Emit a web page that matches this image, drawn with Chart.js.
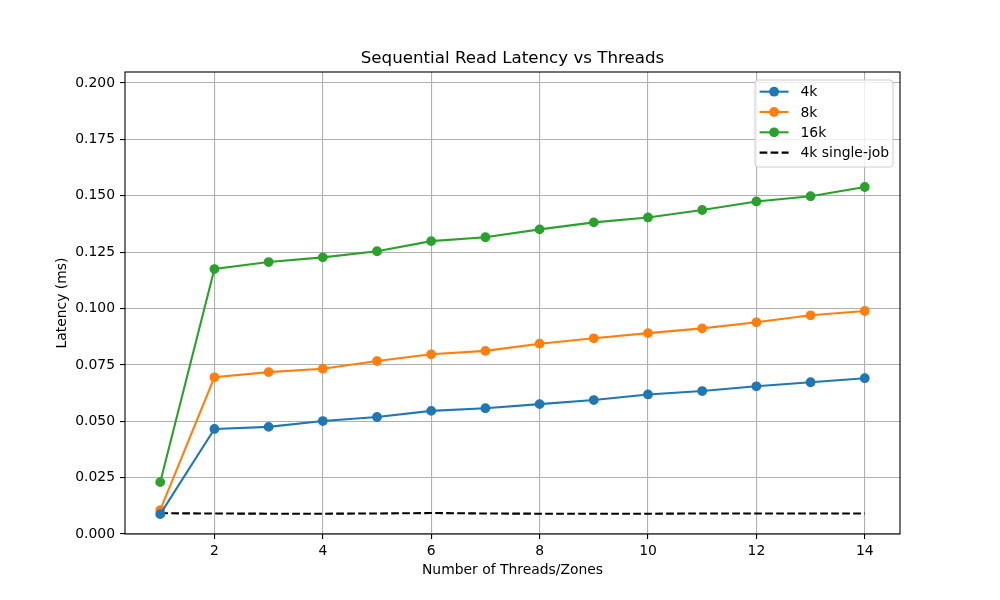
<!DOCTYPE html>
<html>
<head>
<meta charset="utf-8">
<script src="https://cdn.jsdelivr.net/npm/chart.js@4/dist/chart.umd.min.js"></script>
<style>
  html, body { margin: 0; padding: 0; background: #fff; }
  #chart { display: block; }
</style>
</head>
<body>
<canvas id="chart" width="1000" height="600"></canvas>
<script>
// ===== DATA =====
const threads = [1, 2, 3, 4, 5, 6, 7, 8, 9, 10, 11, 12, 13, 14];
const lat4k = [0.0088, 0.0466, 0.0475, 0.0501, 0.0519, 0.0546, 0.0558, 0.0576, 0.0594, 0.0619, 0.0634, 0.0655, 0.0673, 0.0691];
const lat8k = [0.0106, 0.0695, 0.0718, 0.0733, 0.0767, 0.0797, 0.0812, 0.0844, 0.0868, 0.0891, 0.0912, 0.0939, 0.0970, 0.0989];
const lat16k = [0.0230, 0.1175, 0.1206, 0.1227, 0.1254, 0.1299, 0.1316, 0.1351, 0.1382, 0.1404, 0.1437, 0.1475, 0.1498, 0.1539];
const lat4kSingle = [0.0092, 0.0091, 0.0090, 0.0090, 0.0091, 0.0093, 0.0091, 0.0090, 0.0090, 0.0090, 0.0091, 0.0091, 0.0091, 0.0091];
const xTicks = [2, 4, 6, 8, 10, 12, 14];
const yTicks = [0, 0.025, 0.05, 0.075, 0.1, 0.125, 0.15, 0.175, 0.2];

const FONT = "'DejaVu Sans', sans-serif";
const GRID = '#b0b0b0';

const toXY = arr => arr.map((v, i) => ({ x: threads[i], y: v }));

const series = (label, data, color) => ({
  label,
  data: toXY(data),
  borderColor: color,
  backgroundColor: color,
  pointBackgroundColor: color,
  pointBorderColor: color,
  pointBorderWidth: 1.4,
  pointRadius: 4.2,
  pointHoverRadius: 4.2,
  borderWidth: 2.1,
  tension: 0,
  fill: false
});

// frame, title and matplotlib-style legend
const mplExtras = {
  id: 'mplExtras',
  afterDatasetsDraw(chart) {
    const { ctx, chartArea: a } = chart;
    ctx.save();
    ctx.strokeStyle = '#000';
    ctx.lineWidth = 1.1;
    ctx.strokeRect(a.left, a.top, a.right - a.left, a.bottom - a.top);
    ctx.restore();
  },
  afterDraw(chart) {
    const { ctx, chartArea: a } = chart;
    ctx.save();
    // title
    ctx.fillStyle = '#000';
    ctx.font = `16.7px ${FONT}`;
    ctx.textAlign = 'center';
    ctx.textBaseline = 'middle';
    ctx.fillText('Sequential Read Latency vs Threads', (a.left + a.right) / 2, 59);

    // legend
    const ds = chart.data.datasets;
    const bw = 138, bh = 87;
    const bx = a.right - 7 - bw, by = a.top + 8;
    ctx.beginPath();
    ctx.roundRect(bx, by, bw, bh, 3);
    ctx.fillStyle = 'rgba(255,255,255,0.8)';
    ctx.fill();
    ctx.strokeStyle = '#cccccc';
    ctx.lineWidth = 1;
    ctx.stroke();
    ctx.font = `13.9px ${FONT}`;
    ctx.textAlign = 'left';
    ds.forEach((d, i) => {
      const cy = by + 11.7 + i * 20.3;
      const x0 = bx + 4.6, x1 = bx + 33.6;
      ctx.strokeStyle = d.borderColor;
      ctx.lineWidth = d.borderWidth;
      ctx.setLineDash(d.borderDash || []);
      ctx.beginPath();
      ctx.moveTo(x0, cy);
      ctx.lineTo(x1, cy);
      ctx.stroke();
      ctx.setLineDash([]);
      if (d.pointRadius > 0) {
        ctx.fillStyle = d.pointBackgroundColor;
        ctx.beginPath();
        ctx.arc((x0 + x1) / 2, cy, d.pointRadius + d.pointBorderWidth / 2, 0, Math.PI * 2);
        ctx.fill();
      }
      ctx.fillStyle = '#000';
      ctx.fillText(d.label, bx + 45.5, cy + 1);
    });
    ctx.restore();
  }
};

new Chart(document.getElementById('chart'), {
  type: 'line',
  data: {
    datasets: [
      series('4k', lat4k, '#1f77b4'),
      series('8k', lat8k, '#ff7f0e'),
      series('16k', lat16k, '#2ca02c'),
      {
        label: '4k single-job',
        data: toXY(lat4kSingle),
        borderColor: '#000000',
        backgroundColor: '#000000',
        borderDash: [7.7, 3.3],
        borderWidth: 2.1,
        pointRadius: 0,
        pointHoverRadius: 0,
        tension: 0,
        fill: false
      }
    ]
  },
  options: {
    responsive: false,
    animation: false,
    devicePixelRatio: 1,
    layout: { padding: { left: 0, right: 100, top: 72, bottom: 0 } },
    scales: {
      x: {
        type: 'linear',
        min: 0.35,
        max: 14.65,
        afterBuildTicks: s => { s.ticks = xTicks.map(v => ({ value: v })); },
        afterFit: s => { s.height = 66; },
        grid: { color: GRID, lineWidth: 1.1, tickColor: '#000', tickLength: 5 },
        border: { display: false },
        ticks: { color: '#000', font: { family: FONT, size: 13.9 }, padding: 4, maxRotation: 0 },
        title: {
          display: true,
          text: 'Number of Threads/Zones',
          color: '#000',
          font: { family: FONT, size: 13.9 },
          padding: { top: 0, bottom: 21.7 }
        }
      },
      y: {
        min: 0,
        max: 0.2049,
        afterBuildTicks: s => { s.ticks = yTicks.map(v => ({ value: v })); },
        afterFit: s => { s.width = 125; },
        grid: { color: GRID, lineWidth: 1.1, tickColor: '#000', tickLength: 5 },
        border: { display: false },
        ticks: {
          color: '#000',
          font: { family: FONT, size: 13.9 },
          padding: 5,
          callback: v => v.toFixed(3)
        },
        title: {
          display: true,
          text: 'Latency (ms)',
          color: '#000',
          font: { family: FONT, size: 13.9 },
          padding: { top: 53.7, bottom: 0 }
        }
      }
    },
    plugins: {
      legend: { display: false },
      title: { display: false },
      tooltip: { enabled: false }
    }
  },
  plugins: [mplExtras]
});
</script>
</body>
</html>
